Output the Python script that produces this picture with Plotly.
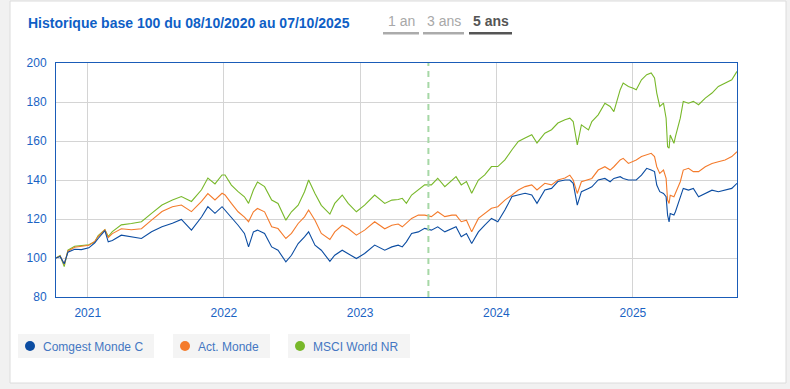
import plotly.graph_objects as go

# ---------------- data ----------------
dates = [
    "2020-10-08", "2020-10-19", "2020-10-30", "2020-11-09", "2020-11-27", "2020-12-15",
    "2021-01-04", "2021-01-20", "2021-01-29", "2021-02-16", "2021-02-25", "2021-03-08",
    "2021-04-01", "2021-04-28", "2021-05-25", "2021-06-21", "2021-07-19", "2021-08-16",
    "2021-09-09", "2021-10-06", "2021-11-02", "2021-11-19", "2021-12-08", "2021-12-27",
    "2022-01-04", "2022-01-21", "2022-02-08", "2022-02-25", "2022-03-08", "2022-03-21",
    "2022-04-01", "2022-04-20", "2022-05-09", "2022-05-26", "2022-06-16", "2022-07-01",
    "2022-07-19", "2022-08-05", "2022-08-16", "2022-09-02", "2022-09-19", "2022-10-12",
    "2022-10-25", "2022-11-14", "2022-11-30", "2022-12-22", "2023-01-13", "2023-02-09",
    "2023-03-08", "2023-03-27", "2023-04-13", "2023-04-24", "2023-05-05", "2023-05-19",
    "2023-06-06", "2023-06-23", "2023-07-11", "2023-07-28", "2023-08-16", "2023-09-04",
    "2023-09-15", "2023-09-29", "2023-10-13", "2023-10-27", "2023-11-14", "2023-12-01",
    "2023-12-19", "2024-01-05", "2024-01-24", "2024-02-12", "2024-02-29", "2024-03-18",
    "2024-04-05", "2024-04-19", "2024-05-10", "2024-05-28", "2024-06-14", "2024-07-03",
    "2024-07-16", "2024-07-25", "2024-08-05", "2024-08-16", "2024-09-04", "2024-09-13",
    "2024-09-30", "2024-10-18", "2024-11-01", "2024-11-11", "2024-11-28", "2024-12-06",
    "2024-12-20", "2025-01-02", "2025-01-10", "2025-01-24", "2025-02-07", "2025-02-19",
    "2025-02-28", "2025-03-06", "2025-03-14", "2025-03-24", "2025-03-31", "2025-04-04",
    "2025-04-08", "2025-04-11", "2025-04-21", "2025-04-25", "2025-05-08", "2025-05-16",
    "2025-05-30", "2025-06-12", "2025-06-26", "2025-07-14", "2025-08-01", "2025-08-18",
    "2025-09-05", "2025-09-23", "2025-10-07",
]

comgest_monde_c = [
    100.0, 100.8, 97.0, 103.0, 104.5, 104.3,
    105.2, 107.8, 110.0, 114.0, 108.3, 109.0,
    111.7, 111.0, 110.0, 113.5, 116.0, 117.8,
    119.8, 114.3, 121.0, 126.3, 122.9, 126.3,
    124.6, 121.1, 116.8, 112.6, 105.7, 113.4,
    114.3, 112.6, 105.7, 104.0, 98.0, 101.4,
    107.4, 110.8, 113.4, 106.6, 104.0, 98.3,
    101.4, 104.0, 102.3, 99.7, 102.3, 106.6,
    104.0, 105.7, 106.6, 105.7, 108.3, 112.6,
    113.4, 115.2, 114.3, 116.0, 113.4, 115.2,
    116.0, 110.9, 112.6, 107.4, 113.4, 116.9,
    120.3, 118.6, 124.6, 131.5, 132.3, 133.2,
    132.3, 128.0, 134.9, 135.7, 139.2, 140.0,
    140.0, 138.3, 127.1, 134.0, 135.7, 136.5,
    140.0, 140.8, 139.1, 140.8, 141.7, 140.8,
    140.0, 140.0, 140.0, 142.5, 146.0, 145.1,
    144.3, 137.4, 134.0, 133.1, 131.4, 122.0,
    118.5, 122.8, 122.0, 123.7, 131.4, 135.7,
    134.8, 135.7, 131.4, 133.1, 134.8, 134.0,
    134.8, 135.7, 138.3,
]

act_monde = [
    100.0, 101.0, 96.8, 103.5, 105.5, 105.8,
    106.5, 108.5, 111.0, 114.5, 110.5, 112.5,
    115.0, 114.5, 115.0, 119.4, 123.8, 126.3,
    127.2, 123.8, 129.0, 133.0, 129.8, 133.2,
    132.3, 128.0, 123.7, 121.0, 118.6, 123.7,
    125.4, 123.7, 116.0, 115.1, 110.0, 112.6,
    117.7, 121.1, 124.6, 119.4, 112.6, 109.5,
    113.4, 116.8, 115.1, 111.7, 114.3, 118.6,
    115.0, 116.8, 117.4, 116.0, 117.7, 120.3,
    122.0, 122.0, 121.2, 123.7, 121.2, 122.0,
    122.0, 118.6, 119.4, 113.4, 120.3, 122.9,
    125.5, 126.3, 129.7, 132.3, 134.9, 136.6,
    137.5, 134.9, 138.3, 137.5, 140.0, 141.0,
    142.5, 140.0, 133.1, 139.1, 140.0, 140.8,
    145.1, 146.8, 145.1, 146.8, 150.3, 151.1,
    148.5, 149.4, 150.3, 152.0, 152.8, 153.7,
    152.0, 146.8, 143.4, 145.1, 140.8, 129.7,
    128.0, 132.2, 131.4, 133.1, 139.1, 145.1,
    146.0, 144.3, 144.3, 146.8, 148.5, 149.4,
    150.3, 152.0, 154.5,
]

msci_world_nr = [
    100.0, 101.2, 95.6, 104.0, 106.0, 106.3,
    106.8, 108.3, 111.5, 114.5, 111.0, 113.5,
    117.0, 117.7, 118.6, 122.9, 127.2, 129.8,
    131.5, 129.0, 135.0, 141.0, 138.0, 142.6,
    142.6, 137.4, 134.0, 131.4, 128.0, 134.9,
    139.0, 136.6, 129.7, 128.0, 119.4, 123.7,
    127.1, 134.0, 140.0, 133.1, 127.0, 122.5,
    128.0, 132.3, 128.0, 123.7, 127.1, 132.3,
    128.0, 129.7, 130.0, 130.6, 128.0, 132.3,
    134.9, 137.5, 137.5, 140.9, 136.6, 140.0,
    141.7, 137.5, 139.2, 133.2, 140.0, 142.6,
    146.9, 146.9, 150.3, 155.5, 159.8, 161.5,
    163.2, 159.0, 164.0, 165.8, 169.2, 170.9,
    171.7, 170.0, 158.0, 168.3, 165.7, 170.0,
    173.4, 179.4, 177.7, 175.1, 186.3, 189.7,
    188.0, 187.1, 186.3, 191.4, 194.0, 194.9,
    192.3, 184.6, 177.7, 179.4, 171.7, 157.1,
    156.3, 163.1, 158.8, 162.3, 171.7, 180.3,
    179.4, 180.3, 178.6, 182.0, 184.6, 188.0,
    189.7, 191.4, 195.7,
]

series_names = ["Comgest Monde C", "Act. Monde", "MSCI World NR"]
series_values = [comgest_monde_c, act_monde, msci_world_nr]
series_colors = ["#0c4da2", "#f47b2c", "#78b82a"]

x_tick_vals = ["2021-01-01", "2022-01-01", "2023-01-01", "2024-01-01", "2025-01-01"]
x_tick_labels = ["2021", "2022", "2023", "2024", "2025"]
y_tick_vals = [80, 100, 120, 140, 160, 180, 200]
marker_date = "2023-07-03"

title_text = "Historique base 100 du 08/10/2020 au 07/10/2025"
period_buttons = ["1 an", "3 ans", "5 ans"]

# ---------------- geometry helpers ----------------
W, H = 790, 389
PL, PR, PT, PB = 56, 737, 63, 297  # plot area in px


def px(x):
    return (x - PL) / (PR - PL)


def py(y):
    return (PB - y) / (PB - PT)


FONT = "Liberation Sans, Arial, Helvetica, sans-serif"
AXIS_BLUE = "#1a63c4"

fig = go.Figure()

# draw in order green, orange, blue so blue is on top
for name, vals, col in reversed(list(zip(series_names, series_values, series_colors))):
    fig.add_trace(go.Scatter(
        x=dates, y=vals, name=name, mode="lines",
        line=dict(color=col, width=1.1),
        showlegend=False,
    ))

shapes = []
annotations = []

# card background
shapes.append(dict(type="rect", xref="paper", yref="paper",
                   x0=px(10), x1=px(786), y0=py(383), y1=py(1),
                   fillcolor="white", line=dict(color="#dcdcdc", width=1), layer="below"))

# dashed marker line
shapes.append(dict(type="line", xref="x", yref="paper",
                   x0=marker_date, x1=marker_date, y0=0, y1=1,
                   line=dict(color="#a6d8a6", width=2, dash="6px,5px"), layer="above"))

# title
annotations.append(dict(text="<b>" + title_text + "</b>", xref="paper", yref="paper",
                        x=px(26), y=py(23), xanchor="left", yanchor="middle", showarrow=False,
                        font=dict(family=FONT, size=14, color="#0f5fc6")))

# period buttons
btn_centers = [401, 443.5, 490.5]
btn_spans = [(383, 419), (423, 464), (469, 512)]
for i, (lbl, cx, (ux0, ux1)) in enumerate(zip(period_buttons, btn_centers, btn_spans)):
    active = i == len(period_buttons) - 1
    annotations.append(dict(text=("<b>" + lbl + "</b>") if active else lbl,
                            xref="paper", yref="paper", x=px(cx), y=py(21.5),
                            xanchor="center", yanchor="middle", showarrow=False,
                            font=dict(family=FONT, size=14,
                                      color="#555555" if active else "#a8a8a8")))
    shapes.append(dict(type="rect", xref="paper", yref="paper",
                       x0=px(ux0), x1=px(ux1), y0=py(34.5), y1=py(32),
                       fillcolor="#555555" if active else "#ababab", line=dict(width=0)))

# custom legend boxes
box_spans = [(18, 154), (173, 270), (288, 410)]
for name, col, (bx0, bx1) in zip(series_names, series_colors, box_spans):
    shapes.append(dict(type="rect", xref="paper", yref="paper",
                       x0=px(bx0), x1=px(bx1), y0=py(358), y1=py(334),
                       fillcolor="#f4f4f4", line=dict(width=0)))
    shapes.append(dict(type="circle", xref="paper", yref="paper",
                       x0=px(bx0 + 7), x1=px(bx0 + 17), y0=py(351), y1=py(341),
                       fillcolor=col, line=dict(width=0)))
    annotations.append(dict(text=name, xref="paper", yref="paper",
                            x=px(bx0 + 23), y=py(346.5), xanchor="left", yanchor="middle",
                            showarrow=False,
                            font=dict(family=FONT, size=12, color="#4477c2")))

fig.update_layout(
    width=W, height=H,
    margin=dict(l=PL, r=W - PR, t=PT, b=H - PB, pad=0),
    paper_bgcolor="#f1f1f1",
    plot_bgcolor="white",
    showlegend=False,
    shapes=shapes,
    annotations=annotations,
    font=dict(family=FONT, size=12, color=AXIS_BLUE),
    hovermode="x unified",
)

fig.update_xaxes(
    range=["2020-10-08", "2025-10-07"],
    tickmode="array", tickvals=x_tick_vals, ticktext=x_tick_labels,
    showgrid=True, gridcolor="#d4d4d4", gridwidth=1,
    showline=True, linecolor="#1a5cb8", linewidth=1, mirror=True,
    ticks="outside", ticklen=5, tickcolor="rgba(0,0,0,0)",
    tickfont=dict(family=FONT, size=12, color=AXIS_BLUE),
    zeroline=False, fixedrange=True,
)
fig.update_yaxes(
    range=[80, 200], tickmode="array", tickvals=y_tick_vals,
    ticktext=[str(v) for v in y_tick_vals],
    showgrid=True, gridcolor="#d4d4d4", gridwidth=1,
    showline=True, linecolor="#1a5cb8", linewidth=1, mirror=True,
    ticks="outside", ticklen=6, tickcolor="rgba(0,0,0,0)",
    tickfont=dict(family=FONT, size=12, color=AXIS_BLUE),
    zeroline=False, fixedrange=True,
)

fig.write_html("out.html", config={"displayModeBar": False},
               post_script="document.body.style.margin='0px';document.body.style.overflow='hidden';")
